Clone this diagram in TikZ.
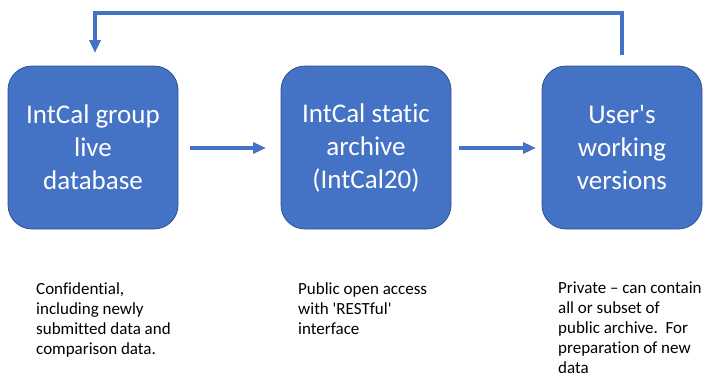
\documentclass[tikz,border=0pt]{standalone}
\usepackage{fontspec}
\newfontfamily\carl{Carlito}[Ligatures=NoCommon]
\usetikzlibrary{arrows.meta}
\definecolor{boxblue}{HTML}{4472C4}
\definecolor{boxedge}{HTML}{2F528F}
\tikzset{
  procbox/.style={draw=boxedge, line width=0.8pt, fill=boxblue, rounded corners=24pt,
    minimum height=163pt, inner sep=0pt, text=white, align=center,
    font=\carl\fontsize{27}{33}\selectfont},
  flow/.style={draw=boxblue, line width=4pt, -{Triangle[length=13pt,width=11pt]}},
  note/.style={anchor=north west, inner sep=0pt, align=left, text=black,
    font=\carl\fontsize{17}{20}\selectfont}
}
\begin{document}
\begin{tikzpicture}[x=1pt,y=-1pt]
\useasboundingbox (0,0) rectangle (703,378);
\node[procbox, minimum width=170pt] (b1) at (93,147.5) {IntCal group\\live\\database};
\node[procbox, minimum width=170pt] (b2) at (366,147.5) {IntCal static\\archive\\(IntCal20)};
\node[procbox, minimum width=160pt] (b3) at (622,147.5) {User's\\working\\versions};
\coordinate (a1s) at (190,148);
\coordinate (a1e) at (266,148);
\coordinate (a2s) at (459,148);
\coordinate (a2e) at (536,148);
\draw[flow] (a1s) -- (a1e);
\draw[flow] (a2s) -- (a2e);
\coordinate (fbs) at (622,55);
\coordinate (fbe) at (95,53);
\draw[flow] (fbs) -- (622,13) -- (95,13) -- (fbe);
\node[note] (n1) at (36,282) {Confidential,\\including newly\\submitted data and\\comparison data.};
\node[note] (n2) at (298,282) {Public open access\\with 'RESTful'\\interface};
\node[note] (n3) at (558,282) {Private – can contain\\all or subset of\\public archive.\ \ For\\preparation of new\\data};
\end{tikzpicture}
\end{document}
